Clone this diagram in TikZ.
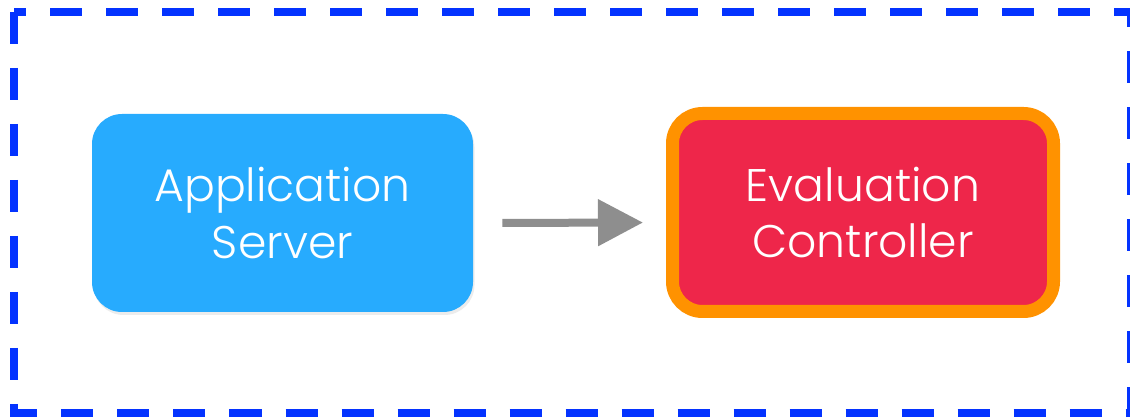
\documentclass[tikz,border=0pt]{standalone}
\usepackage{xcolor}
\usepackage{fontspec}
\setmainfont{Poppins}[UprightFont=* Light]
\usepackage{tikz}
\usetikzlibrary{arrows.meta, positioning, shadows}

\definecolor{frameblue}{HTML}{0433FF}
\definecolor{serverblue}{HTML}{27ABFE}
\definecolor{ctrlred}{HTML}{EE264A}
\definecolor{ctrlorange}{HTML}{FF9200}
\definecolor{arrowgrey}{HTML}{8E8E8E}

\begin{document}
\begin{tikzpicture}[
    frame/.style={draw=frameblue, line width=0.16cm, dash pattern=on 0.64cm off 0.48cm},
    server/.style={rectangle, rounded corners=0.6cm, fill=serverblue, text=white, minimum width=7.62cm, minimum height=3.96cm, align=center, font=\fontsize{26}{32}\selectfont, drop shadow={opacity=0.15, shadow xshift=0.03cm, shadow yshift=-0.06cm}},
    controller/.style={rectangle, rounded corners=0.6cm, fill=ctrlred, draw=ctrlorange, line width=0.26cm, text=white, minimum width=7.62cm, minimum height=3.96cm, align=center, font=\fontsize{26}{32}\selectfont, drop shadow={opacity=0.15, shadow xshift=0.03cm, shadow yshift=-0.06cm}},
    arrow/.style={-{Triangle[length=0.9cm, width=0.9cm]}, line width=0.16cm, draw=arrowgrey, fill=arrowgrey}
]
\useasboundingbox (0,0) rectangle (22.6,-8.38);
\draw[frame] (0.29,-0.24) rectangle (22.62,-8.26);

\node[server] (appserver) at (5.65,-4.26) {Application\\Server};
\node[controller] (evalctrl) at (17.26,-4.25) {Evaluation\\Controller};

\draw[arrow, shorten <=0.58cm, shorten >=0.46cm] ([yshift=-0.2cm]appserver.east) -- ([yshift=-0.2cm]evalctrl.west);
\end{tikzpicture}
\end{document}
